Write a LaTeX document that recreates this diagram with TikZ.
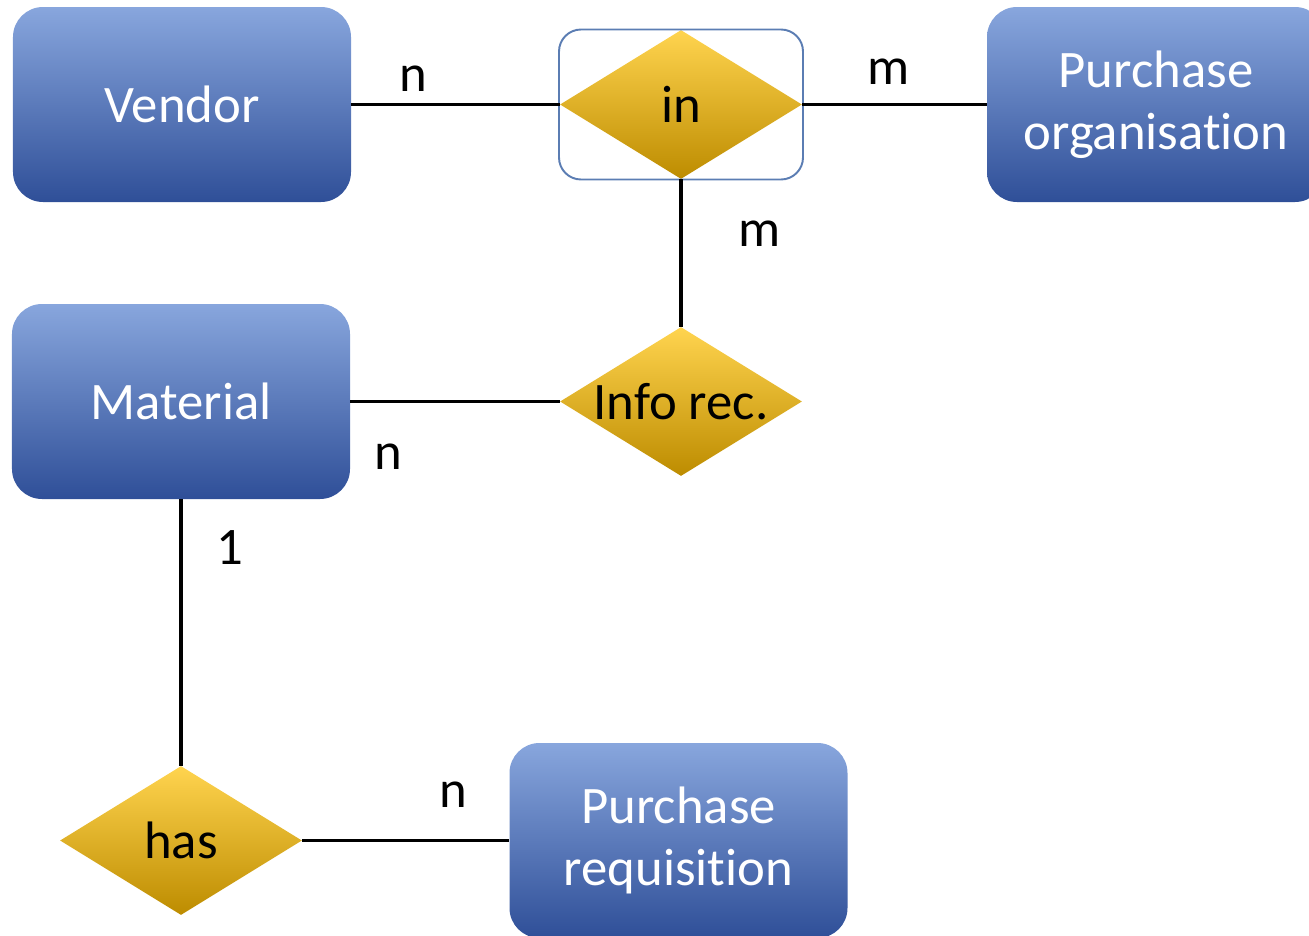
\documentclass[tikz,border=0pt]{standalone}
\usepackage{fontspec}
\setmainfont{Carlito}[RawFeature={-liga;-clig;-dlig;-calt}]
\usetikzlibrary{shapes.geometric}
\definecolor{entitytop}{HTML}{88A6DD}
\definecolor{entitymid}{HTML}{4A73C4}
\definecolor{entitybot}{HTML}{2F4F98}
\definecolor{reltop}{HTML}{FFD44F}
\definecolor{relmid}{HTML}{FFC000}
\definecolor{relbot}{HTML}{BD8C00}
\definecolor{aggline}{HTML}{5B7DB3}
\begin{document}
\begin{tikzpicture}[node distance=100mm, entity/.style={rectangle, rounded corners=6mm, minimum width=67.6mm, minimum height=39mm, top color=entitytop, middle color=entitymid, bottom color=entitybot, text=white, align=center, font={\fontsize{30}{35}\selectfont}}, relation/.style={diamond, aspect=1.62, inner sep=0pt, minimum width=48.4mm, minimum height=29.8mm, top color=reltop, middle color=relmid, bottom color=relbot, font={\fontsize{30}{35}\selectfont}}, card/.style={font={\fontsize{30}{35}\selectfont}}, link/.style={line width=2.2pt}]
  \node[entity] (vendor) {Vendor};
  \useasboundingbox (-36.4mm,20.9mm) rectangle (225.4mm,-166.1mm);
  \node[relation, right of=vendor, node distance=99.8mm] (in) {in};
  \node[rectangle, draw=aggline, line width=1.1pt, rounded corners=4.4mm, minimum width=48.8mm, minimum height=30mm] at (in) (inagg) {};
  \node[entity, right of=in, node distance=95mm] (purchorg) {Purchase\\organisation};

  \node[relation, below of=in, node distance=59.4mm] (inforec) {Info rec.};
  \node[entity, left of=inforec, node distance=100mm] (material) {Material};

  \node[relation, below of=material, node distance=87.8mm] (has) {has};
  \node[entity, right of=has, node distance=99.5mm] (purchreq) {Purchase\\requisition};

  \draw[link] (vendor) -- node[card, above=1mm, pos=0.3] {n} (in);
  \draw[link] (in) -- node[card, above=2.5mm, pos=0.47] {m} (purchorg);
  \draw[link] (in) -- node[card, right=10mm, pos=0.37] {m} (inforec);
  \draw[link] (material) -- node[card, below=7mm, pos=0.18] {n} (inforec);
  \draw[link] (material) -- node[card, right=5.6mm, pos=0.18] {1} (has);
  \draw[link] (has) -- node[card, above=5mm, pos=0.73] {n} (purchreq);
\end{tikzpicture}
\end{document}
